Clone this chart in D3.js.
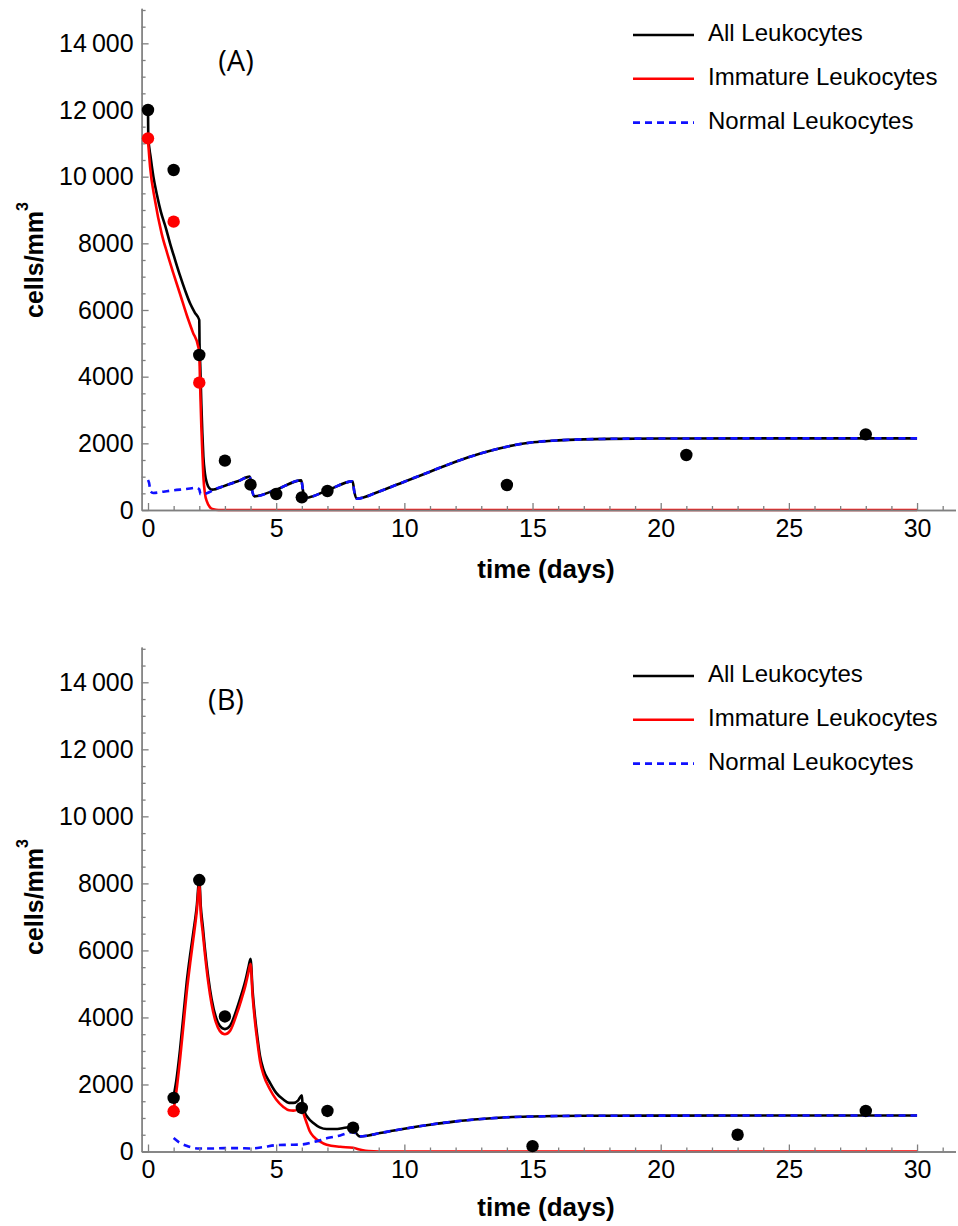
<!DOCTYPE html>
<html>
<head>
<meta charset="utf-8">
<script src="https://cdn.jsdelivr.net/npm/d3@7"></script>
<style>
  body { margin: 0; background: #fff; }
  text { font-family: "Liberation Sans", Arial, sans-serif; fill: #000; }
</style>
</head>
<body>
<svg id="chart" width="958" height="1226"></svg>
<script>
// ---- data ----
const dayTicks = [0, 5, 10, 15, 20, 25, 30];
const cellTicks = [0, 2000, 4000, 6000, 8000, 10000, 12000, 14000];
const cellTickLabels = ['0', '2000', '4000', '6000', '8000', '10\u2009000', '12\u2009000', '14\u2009000'];
const seriesNames = ['All Leukocytes', 'Immature Leukocytes', 'Normal Leukocytes'];
const panelLabels = ['(A)', '(B)'];

// panel A : model curves [day, cells/mm3]
const allA = [[0, 12000], [0.01, 11200], [0.1, 10600], [0.21, 10000], [0.35, 9450], [0.5, 8950],
  [0.7, 8450], [0.86, 8000], [1.05, 7520], [1.25, 7030], [1.45, 6580], [1.64, 6200], [1.82, 5930],
  [2.0, 5700], [2.01, 5000], [2.04, 4300], [2.08, 3200], [2.12, 2300], [2.16, 1600], [2.22, 1100],
  [2.3, 800], [2.4, 650], [2.5, 610], [3.0, 730], [3.5, 860], [3.97, 1000], [4.05, 620], [4.15, 410],
  [5.0, 610], [5.98, 890], [6.05, 560], [6.12, 360], [7.0, 590], [7.98, 860], [8.05, 540], [8.15, 340],
  [9.0, 550], [10.0, 850], [11.0, 1150], [12.0, 1450], [13.0, 1700], [14.0, 1900], [15.0, 2030],
  [16.0, 2090], [17.0, 2120], [18.0, 2135], [20.0, 2145], [25.0, 2150], [30.0, 2150]];
const immatureA = [[0, 11100], [0.08, 10300], [0.27, 9300], [0.53, 8300], [0.75, 7700], [0.99, 7100],
  [1.25, 6480], [1.51, 5850], [1.75, 5330], [1.96, 4900], [2.0, 4700], [2.03, 3800], [2.08, 2500],
  [2.12, 1700], [2.16, 1000], [2.22, 500], [2.3, 250], [2.4, 100], [2.55, 20], [2.75, 0], [30, 0]];
const normalA = [[0, 900], [0.04, 820], [0.1, 560], [0.2, 510], [0.6, 550], [1.0, 590], [1.5, 630],
  [1.9, 670], [2.0, 620], [2.05, 470], [2.2, 480], [2.4, 540], [2.6, 620], [3.0, 730], [3.5, 860],
  [3.97, 1000], [4.05, 620], [4.15, 410], [5.0, 610], [5.98, 890], [6.05, 560], [6.12, 360],
  [7.0, 590], [7.98, 860], [8.05, 540], [8.15, 340], [9.0, 550], [10.0, 850], [11.0, 1150],
  [12.0, 1450], [13.0, 1700], [14.0, 1900], [15.0, 2030], [16.0, 2090], [17.0, 2120], [18.0, 2135],
  [20.0, 2145], [25.0, 2150], [30.0, 2150]];
// panel A : measured points
const obsAllA = [[0, 12000], [1, 10200], [2, 4650], [3, 1480], [4, 760], [5, 480], [6, 380],
  [7, 570], [14, 750], [21, 1650], [28, 2270]];
const obsImmA = [[0, 11150], [1, 8650], [2, 3820]];

// panel B : model curves
const allB = [[1.0, 1650], [1.1, 2100], [1.25, 3050], [1.4, 4200], [1.51, 5050], [1.65, 5900],
  [1.77, 6550], [1.9, 7300], [2.0, 8100], [2.06, 7300], [2.14, 6700], [2.22, 6050], [2.35, 5200],
  [2.48, 4550], [2.65, 4000], [2.8, 3750], [3.0, 3650], [3.2, 3750], [3.46, 4250], [3.65, 4700],
  [3.8, 5100], [3.92, 5500], [4.0, 5750], [4.08, 4800], [4.17, 4050], [4.27, 3400], [4.37, 2850],
  [4.5, 2450], [4.76, 2050], [5.0, 1750], [5.28, 1550], [5.5, 1450], [5.67, 1450], [5.85, 1520],
  [6.0, 1680], [6.03, 1400], [6.1, 1200], [6.25, 1000], [6.45, 850], [6.7, 720], [6.97, 670],
  [7.3, 670], [7.62, 700], [8.0, 740], [8.1, 580], [8.27, 450], [8.6, 480], [9.05, 550], [10, 680],
  [11, 800], [12, 900], [13, 970], [14, 1020], [15, 1045], [17, 1065], [20, 1070], [25, 1075], [30, 1075]];
const immatureB = [[1.0, 1250], [1.1, 1750], [1.25, 2750], [1.4, 3900], [1.51, 4750], [1.65, 5650],
  [1.77, 6350], [1.9, 7150], [2.0, 7950], [2.06, 7100], [2.14, 6500], [2.22, 5900], [2.35, 5050],
  [2.48, 4400], [2.65, 3850], [2.8, 3600], [3.0, 3500], [3.2, 3600], [3.46, 4100], [3.65, 4550],
  [3.8, 4950], [3.92, 5350], [4.0, 5600], [4.08, 4650], [4.17, 3900], [4.27, 3250], [4.37, 2700],
  [4.5, 2300], [4.76, 1850], [5.0, 1550], [5.28, 1330], [5.5, 1230], [5.67, 1220], [5.85, 1250],
  [6.0, 1330], [6.08, 1100], [6.19, 850], [6.3, 620], [6.45, 450], [6.7, 300], [6.97, 200],
  [7.5, 140], [8.0, 110], [8.3, 50], [8.6, 10], [9.0, 0], [30, 0]];
const normalB = [[1.0, 400], [1.2, 280], [1.5, 170], [2.0, 90], [2.5, 90], [3.0, 100], [3.5, 100],
  [4.0, 90], [4.5, 130], [5.0, 190], [5.5, 200], [6.0, 210], [6.5, 290], [7.0, 400], [7.5, 480],
  [8.0, 580], [8.27, 450], [8.6, 480], [9.05, 550], [10, 680], [11, 800], [12, 900], [13, 970],
  [14, 1020], [15, 1045], [17, 1065], [20, 1070], [25, 1075], [30, 1075]];
const obsAllB = [[1, 1600], [2, 8100], [3, 4030], [6, 1300], [7, 1210], [8, 710], [15, 160],
  [23, 500], [28, 1210]];
const obsImmB = [[1, 1200]];

// ---- layout ----
const svg = d3.select('#chart');
const axisColor = '#7f7f7f';
const colors = ['#000000', '#ff0000', '#1010ff'];
const dash = '7,5';

const scaleX = d3.scaleLinear().domain([-0.25, 31.5]).range([141.6, 955.5]);

const panels = [
  { label: panelLabels[0], labelXY: [236, 71], zero: 510, pxPer: 1 / 30,
    all: allA, imm: immatureA, norm: normalA, obsAll: obsAllA, obsImm: obsImmA,
    legendY: 35, xTitleY: 578, yTitleY: 260 },
  { label: panelLabels[1], labelXY: [226, 710], zero: 1151.5, pxPer: 469.2 / 14000,
    all: allB, imm: immatureB, norm: normalB, obsAll: obsAllB, obsImm: obsImmB,
    legendY: 676, xTitleY: 1216, yTitleY: 897 }
];

function drawPanel(p) {
  const g = svg.append('g');
  const top = 15050;
  const scaleY = d3.scaleLinear().domain([0, top]).range([p.zero, p.zero - top * p.pxPer]);

  const line = d3.line()
    .x(d => scaleX(d[0]))
    .y(d => scaleY(d[1]))
    .curve(d3.curveMonotoneX);

  // curves: black, red, then blue dashed on top
  [p.all, p.imm, p.norm].forEach((s, i) => {
    g.append('path')
      .datum(s)
      .attr('fill', 'none')
      .attr('stroke', colors[i])
      .attr('stroke-width', 2.6)
      .attr('stroke-linejoin', 'round')
      .attr('stroke-dasharray', i === 2 ? dash : null)
      .attr('d', line);
  });

  // axes (Mathematica style, ticks point inward)
  const xAxis = d3.axisBottom(scaleX)
    .tickValues(dayTicks)
    .tickSizeInner(-7)
    .tickSizeOuter(0)
    .tickPadding(9);
  const xMinor = d3.axisBottom(scaleX)
    .tickValues(d3.range(0, 32).filter(d => d % 5 !== 0))
    .tickSizeInner(-4)
    .tickSizeOuter(0)
    .tickFormat('');
  const yAxis = d3.axisLeft(scaleY)
    .tickValues(cellTicks)
    .tickFormat((d, i) => cellTickLabels[i])
    .tickSizeInner(-7)
    .tickSizeOuter(0)
    .tickPadding(8);
  const yMinor = d3.axisLeft(scaleY)
    .tickValues(d3.range(500, 15001, 500).filter(d => d % 2000 !== 0))
    .tickSizeInner(-4)
    .tickSizeOuter(0)
    .tickFormat('');

  const axes = [
    g.append('g').attr('transform', `translate(0, ${scaleY(0)})`).call(xAxis),
    g.append('g').attr('transform', `translate(0, ${scaleY(0)})`).call(xMinor),
    g.append('g').attr('transform', `translate(${scaleX(-0.25)}, 0)`).call(yAxis),
    g.append('g').attr('transform', `translate(${scaleX(-0.25)}, 0)`).call(yMinor)
  ];
  axes.forEach(a => {
    a.selectAll('path, line').attr('stroke', axisColor).attr('stroke-width', 1.3);
    a.selectAll('text')
      .attr('fill', '#000')
      .style('font-family', '"Liberation Sans", Arial, sans-serif')
      .style('font-size', '25px');
  });

  // measured points
  g.selectAll('circle.obsAll')
    .data(p.obsAll)
    .join('circle')
    .attr('class', 'obsAll')
    .attr('cx', d => scaleX(d[0]))
    .attr('cy', d => scaleY(d[1]))
    .attr('r', 6.2)
    .attr('fill', '#000');
  g.selectAll('circle.obsImm')
    .data(p.obsImm)
    .join('circle')
    .attr('class', 'obsImm')
    .attr('cx', d => scaleX(d[0]))
    .attr('cy', d => scaleY(d[1]))
    .attr('r', 6.2)
    .attr('fill', '#ff0000');

  // panel label
  g.append('text')
    .attr('x', p.labelXY[0])
    .attr('y', p.labelXY[1])
    .attr('text-anchor', 'middle')
    .style('font-family', '"Open Sans", "Noto Sans", sans-serif')
    .style('font-size', '29px')
    .text(p.label);

  // axis titles
  g.append('text')
    .attr('x', 546)
    .attr('y', p.xTitleY)
    .attr('text-anchor', 'middle')
    .style('font-size', '26px')
    .style('font-weight', 'bold')
    .text('time (days)');

  const yt = g.append('text')
    .attr('transform', `translate(43, ${p.yTitleY}) rotate(-90)`)
    .attr('text-anchor', 'middle')
    .style('font-size', '25px')
    .style('font-weight', 'bold');
  yt.append('tspan').text('cells/mm');
  yt.append('tspan').attr('dy', -15).style('font-size', '16px').text('3');

  // legend
  const leg = g.append('g');
  seriesNames.forEach((name, i) => {
    const y = p.legendY + i * 43.8;
    leg.append('line')
      .attr('x1', 633).attr('x2', 694)
      .attr('y1', y).attr('y2', y)
      .attr('stroke', colors[i])
      .attr('stroke-width', 2.6)
      .attr('stroke-dasharray', i === 2 ? dash : null);
    leg.append('text')
      .attr('x', 708)
      .attr('y', y + 6)
      .style('font-size', '24px')
      .text(name);
  });
}

panels.forEach(drawPanel);
</script>
</body>
</html>
